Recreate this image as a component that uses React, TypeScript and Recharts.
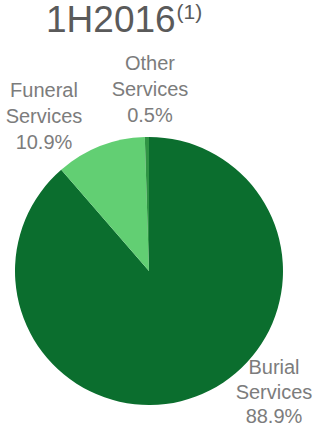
import { PieChart, Pie, Cell } from 'recharts';

// 1H2016 revenue split
const segments = ['Burial Services', 'Funeral Services', 'Other Services'];
const shares = [88.9, 10.9, 0.5];
const colors = ['#0b6e2e', '#62cf73', '#2f9444'];

// label anchor relative to pie centre (first line baseline)
const labelOffsets = [
  { dx: 125, dy: 103, step: 24.5 },
  { dx: -105, dy: -174, step: 26 },
  { dx: 1, dy: -201, step: 26 },
];

const chartData = segments.map((name, i) => ({ name, value: shares[i] }));

const FONT = '"Liberation Sans", Arial, sans-serif';

function renderLabel(props: any) {
  const { cx, cy, index, name, value } = props;
  const off = labelOffsets[index];
  const words = name.split(' ');
  return (
    <text
      x={cx + off.dx}
      y={cy + off.dy}
      textAnchor="middle"
      fill="#7c7c7c"
      fontSize={20}
      fontFamily={FONT}
    >
      <tspan x={cx + off.dx}>{words[0]}</tspan>
      <tspan x={cx + off.dx} dy={off.step}>{words[1]}</tspan>
      <tspan x={cx + off.dx} dy={off.step}>{value.toFixed(1)}%</tspan>
    </text>
  );
}

export default function App() {
  return (
    <div style={{ position: 'absolute', left: 0, top: 0, width: 322, height: 433, background: '#fff' }}>
      <div
        style={{
          position: 'absolute',
          left: 46,
          top: 0,
          fontFamily: FONT,
          fontSize: 37,
          lineHeight: '40px',
          color: '#5a5a5a',
          whiteSpace: 'nowrap',
        }}
      >
        1H2016
        <span style={{ fontSize: 21, position: 'relative', top: -13, marginLeft: 1 }}>(1)</span>
      </div>
      <PieChart width={322} height={433} margin={{ top: 0, right: 0, bottom: 0, left: 0 }}>
        <Pie
          data={chartData}
          dataKey="value"
          nameKey="name"
          cx={149}
          cy={271}
          outerRadius={134}
          startAngle={90}
          endAngle={-270}
          stroke="none"
          label={renderLabel}
          labelLine={false}
          isAnimationActive={false}
        >
          {chartData.map((d, i) => (
            <Cell key={d.name} fill={colors[i]} />
          ))}
        </Pie>
      </PieChart>
    </div>
  );
}
